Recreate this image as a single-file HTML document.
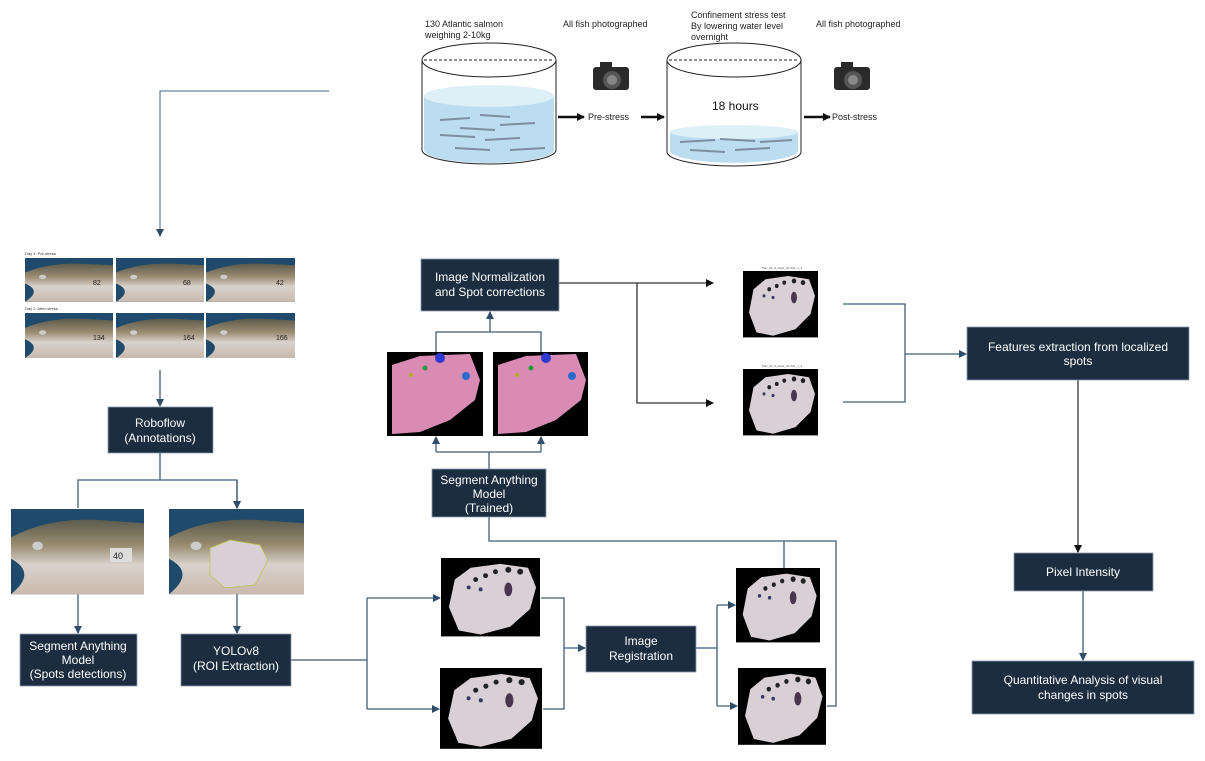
<!DOCTYPE html>
<html><head><meta charset="utf-8"><style>
html,body{margin:0;padding:0;background:#fff}
svg{display:block}
text{font-family:"Liberation Sans",sans-serif}
</style></head><body>
<svg width="1205" height="761" viewBox="0 0 1205 761" xmlns="http://www.w3.org/2000/svg">
<defs>
<marker id="a" markerWidth="8" markerHeight="8" refX="7" refY="4" orient="auto" markerUnits="userSpaceOnUse"><path d="M0,0 L8,4 L0,8 z" fill="#2f4e6a"/></marker>
<marker id="k" markerWidth="8" markerHeight="8" refX="7" refY="4" orient="auto" markerUnits="userSpaceOnUse"><path d="M0,0 L8,4 L0,8 z" fill="#111"/></marker>
<linearGradient id="fishg" x1="0" y1="0" x2="0" y2="1"><stop offset="0" stop-color="#5b5a4c"/><stop offset="0.35" stop-color="#9a8d72"/><stop offset="0.6" stop-color="#d9d2cc"/><stop offset="1" stop-color="#c9b9ae"/></linearGradient>
<g id="photo">
<rect width="100" height="60" fill="#1f4a6b"/>
<path d="M0,20 Q30,5 70,8 L100,10 L100,60 L0,60 Q20,45 0,35 z" fill="url(#fishg)"/>
<ellipse cx="20" cy="26" rx="4" ry="3" fill="#ccc"/>
</g>
<g id="roi">
<rect width="100" height="80" fill="#000"/>
<path d="M14,22 L30,10 L60,6 L88,10 L96,30 L90,52 L70,70 L40,78 L18,74 L8,50 z" fill="#d8d0d4"/>
<circle cx="35" cy="22" r="2.5" fill="#222"/><circle cx="45" cy="18" r="2.5" fill="#222"/><circle cx="55" cy="14" r="2.5" fill="#222"/><circle cx="68" cy="12" r="3" fill="#222"/><circle cx="80" cy="14" r="3" fill="#222"/><ellipse cx="68" cy="32" rx="4" ry="7" fill="#4a3550"/><circle cx="28" cy="30" r="2" fill="#3a3a6a"/><circle cx="40" cy="32" r="2" fill="#3a3a6a"/>
</g>
</defs>

<!-- top tanks -->
<g font-size="9" fill="#222">
<text x="425" y="27">130 Atlantic salmon</text><text x="425" y="38">weighing 2-10kg</text>
<text x="563" y="27">All fish photographed</text>
<text x="691" y="18">Confinement stress test</text><text x="691" y="29">By lowering water level</text><text x="691" y="40">overnight</text>
<text x="816" y="27">All fish photographed</text>
<text x="588" y="120">Pre-stress</text><text x="832" y="120">Post-stress</text>
</g>
<!-- tank 1 -->
<path d="M424,96 L424,150 A65,13 0 0 0 554,150 L554,96 z" fill="#bcdcf0"/>
<ellipse cx="489" cy="96" rx="65" ry="11" fill="#ddf0f7"/>
<ellipse cx="489" cy="60" rx="67" ry="17" fill="none" stroke="#222" stroke-width="1"/>
<line x1="422" y1="60" x2="422" y2="150" stroke="#222"/><line x1="556" y1="60" x2="556" y2="150" stroke="#222"/>
<path d="M422,150 A67,14 0 0 0 556,150" fill="none" stroke="#222"/>
<line x1="424" y1="60" x2="554" y2="60" stroke="#222" stroke-dasharray="3,2"/>
<g stroke="#7d8ea0" stroke-width="2">
<line x1="440" y1="120" x2="470" y2="118"/><line x1="480" y1="115" x2="510" y2="117"/><line x1="500" y1="125" x2="535" y2="123"/><line x1="440" y1="135" x2="475" y2="137"/><line x1="485" y1="140" x2="520" y2="138"/><line x1="455" y1="148" x2="490" y2="150"/><line x1="510" y1="150" x2="545" y2="148"/><line x1="460" y1="128" x2="495" y2="130"/>
</g>
<!-- tank 2 -->
<path d="M670,132 L670,152 A65,13 0 0 0 798,152 L798,132 z" fill="#bcdcf0"/>
<ellipse cx="734" cy="132" rx="64" ry="7" fill="#ddf0f7"/>
<ellipse cx="734" cy="60" rx="67" ry="17" fill="none" stroke="#222"/>
<line x1="667" y1="60" x2="667" y2="152" stroke="#222"/><line x1="801" y1="60" x2="801" y2="152" stroke="#222"/>
<path d="M667,152 A67,14 0 0 0 801,152" fill="none" stroke="#222"/>
<line x1="669" y1="60" x2="799" y2="60" stroke="#222" stroke-dasharray="3,2"/>
<g stroke="#7d8ea0" stroke-width="2">
<line x1="680" y1="142" x2="715" y2="140"/><line x1="720" y1="139" x2="755" y2="141"/><line x1="760" y1="142" x2="792" y2="140"/><line x1="690" y1="150" x2="725" y2="152"/><line x1="735" y1="150" x2="770" y2="148"/>
</g>
<text x="712" y="110" font-size="12" fill="#111">18 hours</text>
<!-- cameras -->
<g><rect x="593" y="67" width="36" height="23" rx="3" fill="#2a2a2a"/><rect x="600" y="62" width="12" height="6" fill="#2a2a2a"/><circle cx="612" cy="80" r="9" fill="#555"/><circle cx="612" cy="80" r="5" fill="#888"/></g>
<g><rect x="834" y="67" width="36" height="23" rx="3" fill="#2a2a2a"/><rect x="841" y="62" width="12" height="6" fill="#2a2a2a"/><circle cx="853" cy="80" r="9" fill="#555"/><circle cx="853" cy="80" r="5" fill="#888"/></g>
<g stroke="#111" stroke-width="2.5" marker-end="url(#k)">
<line x1="558" y1="117" x2="584" y2="117"/><line x1="641" y1="117" x2="664" y2="117"/><line x1="804" y1="117" x2="830" y2="117"/>
</g>

<!-- connectors -->
<g fill="none" stroke="#3f5d78" stroke-width="1.3">
<polyline points="329,91 160,91 160,236" stroke="#6a8299" marker-end="url(#a)"/>
<line x1="160" y1="370" x2="160" y2="406" marker-end="url(#a)"/>
<line x1="160" y1="453" x2="160" y2="480"/>
<polyline points="78,508 78,480 237,480 237,508" marker-end="url(#a)"/>
<line x1="237" y1="480" x2="237" y2="508" marker-end="url(#a)"/>
<line x1="78" y1="594" x2="78" y2="633" marker-end="url(#a)"/>
<line x1="237" y1="594" x2="237" y2="633" marker-end="url(#a)"/>
<polyline points="291,660 367,660"/>
<polyline points="367,598 367,709"/>
<line x1="367" y1="598" x2="440" y2="598" marker-end="url(#a)"/>
<line x1="367" y1="709" x2="439" y2="709" marker-end="url(#a)"/>
<polyline points="541,598 564,598 564,709 543,709"/>
<line x1="564" y1="648" x2="585" y2="648" marker-end="url(#a)"/>
<polyline points="696,648 717,648"/>
<polyline points="717,605 717,706"/>
<line x1="717" y1="605" x2="735" y2="605" marker-end="url(#a)"/>
<line x1="717" y1="706" x2="737" y2="706" marker-end="url(#a)"/>
<polyline points="489,517 489,541 836,541 836,706 827,706"/>
<line x1="784" y1="541" x2="784" y2="568"/>
<line x1="489" y1="469" x2="489" y2="452"/>
<polyline points="436,452 541,452"/>
<line x1="436" y1="452" x2="436" y2="437" marker-end="url(#a)"/>
<line x1="541" y1="452" x2="541" y2="437" marker-end="url(#a)"/>
<polyline points="436,352 436,332 541,332 541,352"/>
<line x1="490" y1="332" x2="490" y2="312" marker-end="url(#a)"/>
<polyline points="843,304 905,304 905,402 843,402"/>
<line x1="905" y1="354" x2="966" y2="354" marker-end="url(#a)"/>
<line x1="1083" y1="591" x2="1083" y2="660" marker-end="url(#a)"/>
</g>
<g fill="none" stroke="#333" stroke-width="1.3">
<line x1="559" y1="283" x2="713" y2="283" marker-end="url(#k)"/>
<polyline points="637,283 637,403 713,403" marker-end="url(#k)"/>
<line x1="1078" y1="380" x2="1078" y2="552" marker-end="url(#k)"/>
</g>

<!-- top-left photo grid -->
<text x="25" y="255" font-size="4" fill="#333">Day 1: Pre-stress</text>
<text x="25" y="310" font-size="4" fill="#333">Day 2: After-stress</text>
<use href="#photo" transform="translate(25,258) scale(0.88,0.73)"/>
<use href="#photo" transform="translate(116,258) scale(0.88,0.73)"/>
<use href="#photo" transform="translate(206,258) scale(0.89,0.73)"/>
<use href="#photo" transform="translate(25,313) scale(0.88,0.75)"/>
<use href="#photo" transform="translate(116,313) scale(0.88,0.75)"/>
<use href="#photo" transform="translate(206,313) scale(0.89,0.75)"/>
<g font-size="7" fill="#222"><text x="93" y="285">82</text><text x="183" y="285">68</text><text x="276" y="285">42</text><text x="93" y="340">134</text><text x="183" y="340">164</text><text x="276" y="340">166</text></g>

<!-- annotated fish photos -->
<use href="#photo" transform="translate(11,509) scale(1.33,1.42)"/>
<rect x="110" y="548" width="22" height="14" fill="#ddd"/><text x="113" y="559" font-size="9" fill="#222">40</text>
<use href="#photo" transform="translate(169,509) scale(1.35,1.42)"/>
<path d="M210,548 L230,540 L260,545 L268,560 L255,585 L225,588 L210,575 z" fill="#d8d0d4" stroke="#b8c040" stroke-width="0.7"/>

<!-- pink images -->
<g>
<rect x="387" y="352" width="96" height="84" fill="#000"/>
<path d="M392,365 L420,356 L470,354 L480,380 L475,400 L450,420 L420,432 L392,434 z" fill="#d98bb4"/>
<circle cx="440" cy="358" r="5" fill="#2d3ad0"/><circle cx="425" cy="368" r="2.5" fill="#1e9a3a"/><circle cx="411" cy="375" r="2" fill="#b0b020"/><circle cx="466" cy="376" r="4" fill="#2d6ad0"/>
<rect x="493" y="352" width="95" height="84" fill="#000"/>
<path d="M498,365 L526,356 L576,354 L586,380 L581,400 L556,420 L526,432 L498,434 z" fill="#d98bb4"/>
<circle cx="546" cy="358" r="5" fill="#2d3ad0"/><circle cx="531" cy="368" r="2.5" fill="#1e9a3a"/><circle cx="517" cy="375" r="2" fill="#b0b020"/><circle cx="572" cy="376" r="4" fill="#2d6ad0"/>
</g>

<!-- ROI images -->
<use href="#roi" transform="translate(743,271) scale(0.75,0.83)"/>
<use href="#roi" transform="translate(743,369) scale(0.75,0.83)"/>
<text x="762" y="269" font-size="3" fill="#555">Pair_03_S_day2_w1 001_1_3</text>
<text x="762" y="367" font-size="3" fill="#555">Pair_03_S_day2_w1 001_1_3</text>
<use href="#roi" transform="translate(441,558) scale(0.99,0.98)"/>
<use href="#roi" transform="translate(440,668) scale(1.02,1.01)"/>
<use href="#roi" transform="translate(736,568) scale(0.84,0.93)"/>
<use href="#roi" transform="translate(738,668) scale(0.88,0.96)"/>

<!-- boxes -->
<g fill="#1b2d3f" stroke="#8a9bb0" stroke-width="0.8">
<rect x="108" y="407" width="105" height="46"/>
<rect x="20" y="634" width="117" height="52"/>
<rect x="181" y="634" width="110" height="52"/>
<rect x="421" y="259" width="138" height="52"/>
<rect x="432" y="469" width="114" height="48"/>
<rect x="586" y="626" width="110" height="46"/>
<rect x="967" y="327" width="222" height="53"/>
<rect x="1014" y="553" width="139" height="38"/>
<rect x="972" y="661" width="222" height="53"/>
</g>
<g fill="#fff" font-size="12" text-anchor="middle">
<text x="160" y="427">Roboflow</text><text x="160" y="442">(Annotations)</text>
<text x="78" y="650">Segment Anything</text><text x="78" y="664">Model</text><text x="78" y="678">(Spots detections)</text>
<text x="236" y="655">YOLOv8</text><text x="236" y="670">(ROI Extraction)</text>
<text x="490" y="281">Image Normalization</text><text x="490" y="296">and Spot corrections</text>
<text x="489" y="484">Segment Anything</text><text x="489" y="498">Model</text><text x="489" y="512">(Trained)</text>
<text x="641" y="645">Image</text><text x="641" y="660">Registration</text>
<text x="1078" y="351">Features extraction from localized</text><text x="1078" y="365">spots</text>
<text x="1083" y="576">Pixel Intensity</text>
<text x="1083" y="684">Quantitative Analysis of visual</text><text x="1083" y="699">changes in spots</text>
</g>
</svg>
</body></html>
